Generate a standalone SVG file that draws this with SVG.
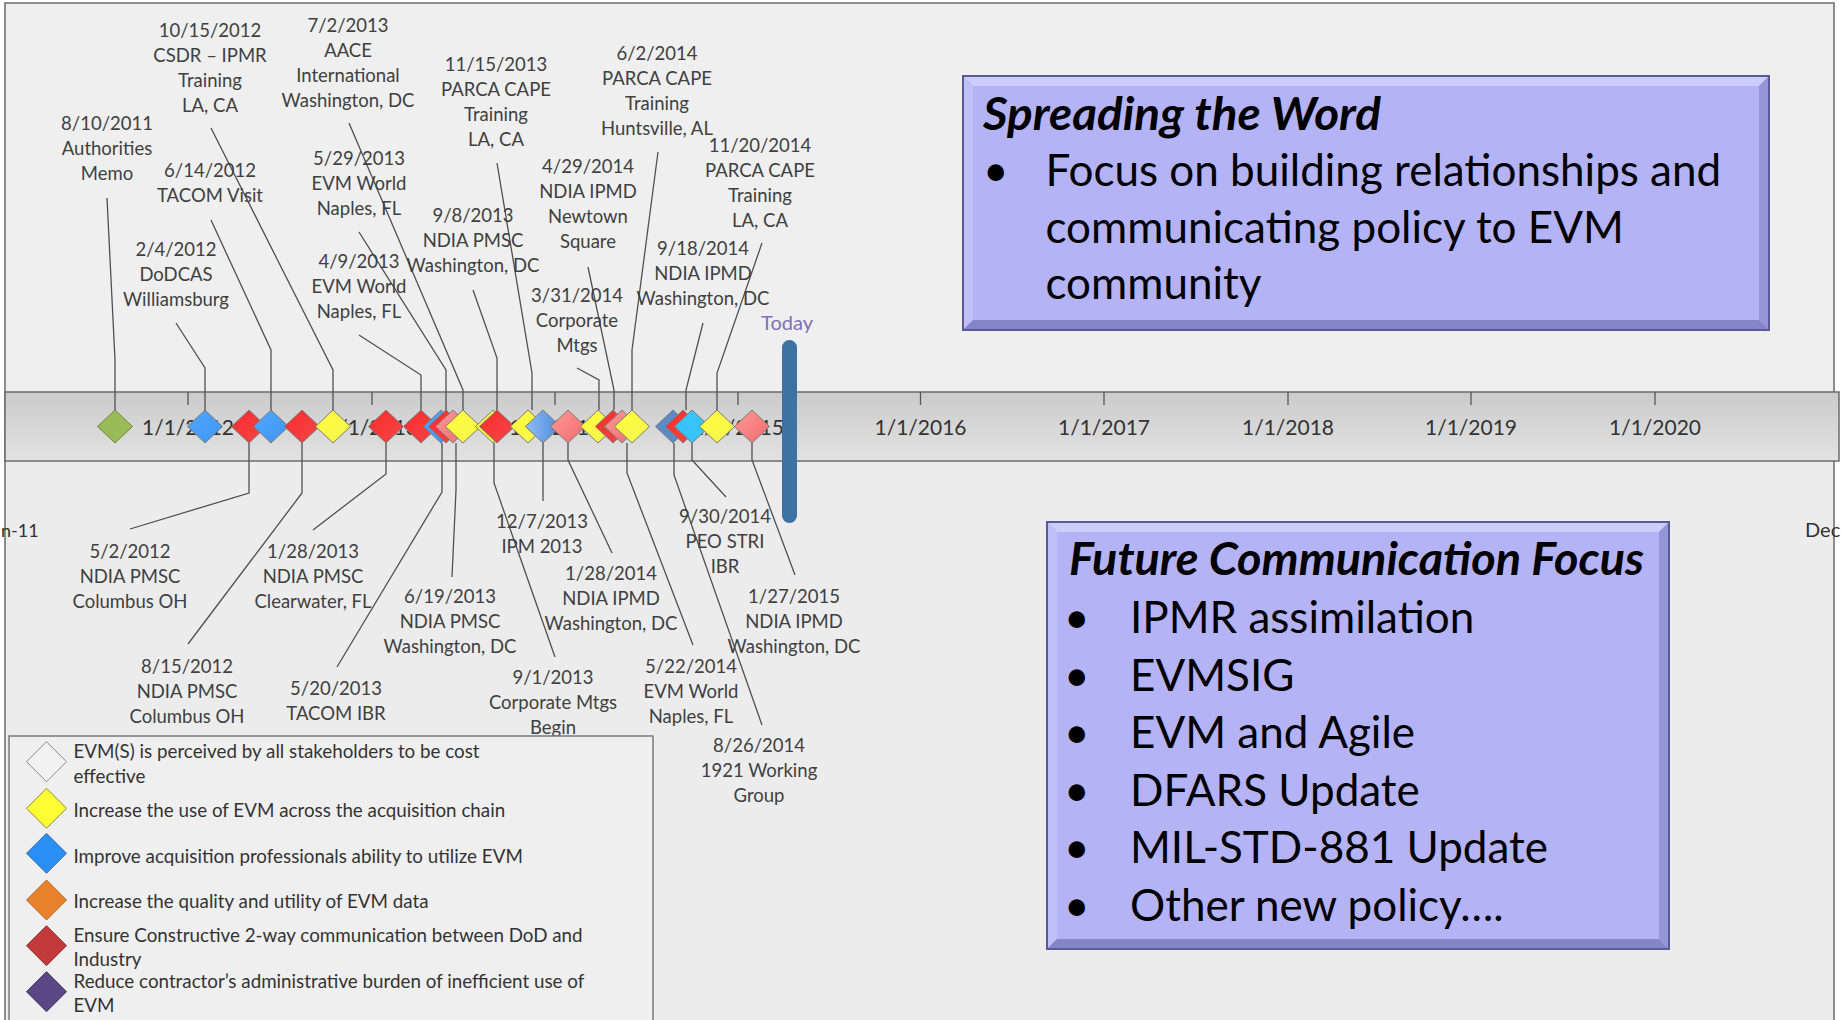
<svg xmlns="http://www.w3.org/2000/svg" xmlns:xlink="http://www.w3.org/1999/xlink" width="1841" height="1020" viewBox="0 0 1841 1020">
<defs>
<style>
.lbl{font-family:Lato,"Open Sans","DejaVu Sans",sans-serif;font-size:18.5px;fill:#404040;text-anchor:middle}
.tick{font-family:Lato,"Open Sans","DejaVu Sans",sans-serif;font-size:21px;fill:#333;text-anchor:middle}
.leg{font-family:Lato,"Open Sans","DejaVu Sans",sans-serif;font-size:18.8px;fill:#333}
.bt{font-family:Lato,"Open Sans","DejaVu Sans",sans-serif;font-size:44px;fill:#000}
.bh{font-family:Lato,"Open Sans","DejaVu Sans",sans-serif;font-size:46px;font-weight:bold;font-style:italic;fill:#000}
.ld{fill:none;stroke:#505050;stroke-width:1.3}
.dm{stroke:#7a7a7a;stroke-width:1}
.red{fill:url(#gRed)}
.yel{fill:url(#gYel)}
.blu{fill:url(#gBlu)}
.sal{fill:url(#gSal)}
.lbl2{fill:url(#gLbl)}
.stl{fill:#5a8ac8}
.cyn{fill:#36c4fb}
.grn{fill:#9bbb59;stroke:#6f8a3a}
.bv-out{fill:#9a9ae0;stroke:#5a5a96;stroke-width:2}
.bv-t{fill:#cdcdfb}
.bv-l{fill:#c0c0f9}
.bv-b{fill:#8585c9}
.bv-r{fill:#9595d9}
.bv-in{fill:#b3b3f6}
</style>
<linearGradient id="gRed" x1="0" y1="0" x2="1" y2="1"><stop offset="0" stop-color="#ff2a2a"/><stop offset="1" stop-color="#f04848"/></linearGradient>
<linearGradient id="gYel" x1="0" y1="0" x2="1" y2="1"><stop offset="0" stop-color="#ffff3a"/><stop offset="1" stop-color="#f5f550"/></linearGradient>
<linearGradient id="gBlu" x1="0" y1="0" x2="1" y2="1"><stop offset="0" stop-color="#52a8ff"/><stop offset="1" stop-color="#3f94f0"/></linearGradient>
<linearGradient id="gSal" x1="0" y1="0" x2="1" y2="1"><stop offset="0" stop-color="#ff9a9a"/><stop offset="1" stop-color="#f26a6a"/></linearGradient>
<linearGradient id="gLbl" x1="0" y1="0" x2="1" y2="0"><stop offset="0" stop-color="#92bef2"/><stop offset="1" stop-color="#4a8ae0"/></linearGradient>
<linearGradient id="gBand" x1="0" y1="0" x2="0" y2="1"><stop offset="0" stop-color="#cbcbcb"/><stop offset="1" stop-color="#e2e2e2"/></linearGradient>
<path id="d" d="M0,-16.5 L17.5,0 L0,16.5 L-17.5,0Z"/>
<path id="D" d="M0,-20 L20,0 L0,20 L-20,0Z"/>
</defs>

<rect x="0" y="0" width="1841" height="1020" fill="#ffffff"/>
<rect x="5" y="3" width="1829" height="1030" fill="#ececec" stroke="#6b6b6b" stroke-width="1.5"/>
<rect x="6" y="4" width="1827" height="388" fill="#efefef"/>

<!-- timeline band -->
<g id="band">
<rect x="5" y="392" width="1834" height="69" fill="url(#gBand)" stroke="#6b6b6b" stroke-width="1.5"/>
<g stroke="#555" stroke-width="1.3">
<line x1="188" y1="392" x2="188" y2="405"/>
<line x1="372" y1="392" x2="372" y2="405"/>
<line x1="555" y1="392" x2="555" y2="405"/>
<line x1="738" y1="392" x2="738" y2="405"/>
<line x1="920.5" y1="392" x2="920.5" y2="405"/>
<line x1="1104" y1="392" x2="1104" y2="405"/>
<line x1="1288" y1="392" x2="1288" y2="405"/>
<line x1="1471" y1="392" x2="1471" y2="405"/>
<line x1="1655" y1="392" x2="1655" y2="405"/>
</g>
<text class="tick" x="188" y="435">1/1/2012</text>
<text class="tick" x="372" y="435">1/1/2013</text>
<text class="tick" x="555" y="435">1/1/2014</text>
<text class="tick" x="738" y="435">1/1/2015</text>
<text class="tick" x="920.5" y="435">1/1/2016</text>
<text class="tick" x="1104" y="435">1/1/2017</text>
<text class="tick" x="1288" y="435">1/1/2018</text>
<text class="tick" x="1471" y="435">1/1/2019</text>
<text class="tick" x="1655" y="435">1/1/2020</text>
<text class="tick" x="1" y="537" style="text-anchor:start;font-size:18px">n-11</text>
<text class="tick" x="1805" y="537" style="text-anchor:start;font-size:20px">Dec</text>
</g>

<!-- connectors -->
<g id="connectors" class="ld">
<polyline class="ld" points="107,198 115,360 115,410"/>
<polyline class="ld" points="176,323 205,368 205,410"/>
<polyline class="ld" points="211,220 271,350 271,410"/>
<polyline class="ld" points="211,128 333,370 333,410"/>
<polyline class="ld" points="359,335 421,375 421,410"/>
<polyline class="ld" points="359,232 446,370 446,410"/>
<polyline class="ld" points="349,123 463,390 463,410"/>
<polyline class="ld" points="473,290 497,358 497,410"/>
<polyline class="ld" points="497,163 532,373 532,410"/>
<polyline class="ld" points="577,368 599,380 599,410"/>
<polyline class="ld" points="588,267 614,390 614,410"/>
<polyline class="ld" points="658,152 632,350 632,410"/>
<polyline class="ld" points="703,323 686,390 686,410"/>
<polyline class="ld" points="762,243 717,373 717,410"/>
<polyline class="ld" points="249,443 249,493 130,529"/>
<polyline class="ld" points="302,443 302,493 188,644"/>
<polyline class="ld" points="386,443 386,474 313,530"/>
<polyline class="ld" points="442,443 442,492 337,667"/>
<polyline class="ld" points="456,443 456,490 452,577"/>
<polyline class="ld" points="494,443 494,483 555,657"/>
<polyline class="ld" points="543,443 543,501"/>
<polyline class="ld" points="568,443 568,460 612,553"/>
<polyline class="ld" points="627,443 627,473 693,645"/>
<polyline class="ld" points="674,443 674,475 762,725"/>
<polyline class="ld" points="692,443 692,460 726,497"/>
<polyline class="ld" points="752,443 752,460 795,575"/>
</g>

<!-- Today marker -->
<g id="today">
<rect x="782" y="340" width="15" height="183" rx="7.5" fill="#3d72a4"/>
<text x="787" y="330" style="font-family:Lato,'Open Sans',sans-serif;font-size:20px;fill:#7e6fb6;text-anchor:middle">Today</text>
</g>

<!-- event nodes (chronological) -->
<g id="ev-20110810"><use xlink:href="#d" x="115" y="426.5" class="dm grn"/><text class="lbl" x="107" y="130"><tspan x="107">8/10/2011</tspan><tspan x="107" dy="25">Authorities</tspan><tspan x="107" dy="25">Memo</tspan></text></g>
<g id="ev-20120204"><use xlink:href="#d" x="205" y="426.5" class="dm blu"/><text class="lbl" y="256"><tspan x="176">2/4/2012</tspan><tspan x="176" dy="25">DoDCAS</tspan><tspan x="176" dy="25">Williamsburg</tspan></text></g>
<g id="ev-20120502"><use xlink:href="#d" x="249" y="426.5" class="dm red"/><text class="lbl" y="558"><tspan x="130">5/2/2012</tspan><tspan x="130" dy="25">NDIA PMSC</tspan><tspan x="130" dy="25">Columbus OH</tspan></text></g>
<g id="ev-20120614"><use xlink:href="#d" x="271" y="426.5" class="dm blu"/><text class="lbl" y="177"><tspan x="210">6/14/2012</tspan><tspan x="210" dy="25">TACOM Visit</tspan></text></g>
<g id="ev-20120815"><use xlink:href="#d" x="302" y="426.5" class="dm red"/><text class="lbl" y="673"><tspan x="187">8/15/2012</tspan><tspan x="187" dy="25">NDIA PMSC</tspan><tspan x="187" dy="25">Columbus OH</tspan></text></g>
<g id="ev-20121015"><use xlink:href="#d" x="333" y="426.5" class="dm yel"/><text class="lbl" y="37"><tspan x="210">10/15/2012</tspan><tspan x="210" dy="25">CSDR – IPMR</tspan><tspan x="210" dy="25">Training</tspan><tspan x="210" dy="25">LA, CA</tspan></text></g>
<g id="ev-20130128"><use xlink:href="#d" x="386" y="426.5" class="dm red"/><text class="lbl" y="558"><tspan x="313">1/28/2013</tspan><tspan x="313" dy="25">NDIA PMSC</tspan><tspan x="313" dy="25">Clearwater, FL</tspan></text></g>
<g id="ev-20130409"><use xlink:href="#d" x="421" y="426.5" class="dm red"/><text class="lbl" y="268"><tspan x="359">4/9/2013</tspan><tspan x="359" dy="25">EVM World</tspan><tspan x="359" dy="25">Naples, FL</tspan></text></g>
<g id="ev-20130520"><use xlink:href="#d" x="441" y="426.5" class="dm blu"/><text class="lbl" y="695"><tspan x="336">5/20/2013</tspan><tspan x="336" dy="25">TACOM IBR</tspan></text></g>
<g id="ev-20130529"><use xlink:href="#d" x="446" y="426.5" class="dm red"/><text class="lbl" y="165"><tspan x="359">5/29/2013</tspan><tspan x="359" dy="25">EVM World</tspan><tspan x="359" dy="25">Naples, FL</tspan></text></g>
<g id="ev-20130619"><use xlink:href="#d" x="453" y="426.5" class="dm sal"/><text class="lbl" y="603"><tspan x="450">6/19/2013</tspan><tspan x="450" dy="25">NDIA PMSC</tspan><tspan x="450" dy="25">Washington, DC</tspan></text></g>
<g id="ev-20130702"><use xlink:href="#d" x="463" y="426.5" class="dm yel"/><text class="lbl" y="32"><tspan x="348">7/2/2013</tspan><tspan x="348" dy="25">AACE</tspan><tspan x="348" dy="25">International</tspan><tspan x="348" dy="25">Washington, DC</tspan></text></g>
<g id="ev-20130901"><use xlink:href="#d" x="493" y="426.5" class="dm yel"/><text class="lbl" y="684"><tspan x="553">9/1/2013</tspan><tspan x="553" dy="25">Corporate Mtgs</tspan><tspan x="553" dy="25">Begin</tspan></text></g>
<g id="ev-20130908"><use xlink:href="#d" x="497" y="426.5" class="dm red"/><text class="lbl" y="222"><tspan x="473">9/8/2013</tspan><tspan x="473" dy="25">NDIA PMSC</tspan><tspan x="473" dy="25">Washington, DC</tspan></text></g>
<g id="ev-20131115"><use xlink:href="#d" x="528" y="426.5" class="dm yel"/><text class="lbl" y="71"><tspan x="496">11/15/2013</tspan><tspan x="496" dy="25">PARCA CAPE</tspan><tspan x="496" dy="25">Training</tspan><tspan x="496" dy="25">LA, CA</tspan></text></g>
<g id="ev-20131207"><use xlink:href="#d" x="543" y="426.5" class="dm lbl2"/><text class="lbl" y="528"><tspan x="542">12/7/2013</tspan><tspan x="542" dy="25">IPM 2013</tspan></text></g>
<g id="ev-20140128"><use xlink:href="#d" x="568" y="426.5" class="dm sal"/><text class="lbl" y="580"><tspan x="611">1/28/2014</tspan><tspan x="611" dy="25">NDIA IPMD</tspan><tspan x="611" dy="25">Washington, DC</tspan></text></g>
<g id="ev-20140331"><use xlink:href="#d" x="598" y="426.5" class="dm yel"/><text class="lbl" y="302"><tspan x="577">3/31/2014</tspan><tspan x="577" dy="25">Corporate</tspan><tspan x="577" dy="25">Mtgs</tspan></text></g>
<g id="ev-20140429"><use xlink:href="#d" x="613" y="426.5" class="dm red"/><text class="lbl" y="173"><tspan x="588">4/29/2014</tspan><tspan x="588" dy="25">NDIA IPMD</tspan><tspan x="588" dy="25">Newtown</tspan><tspan x="588" dy="25">Square</tspan></text></g>
<g id="ev-20140522"><use xlink:href="#d" x="622" y="426.5" class="dm sal"/><text class="lbl" y="673"><tspan x="691">5/22/2014</tspan><tspan x="691" dy="25">EVM World</tspan><tspan x="691" dy="25">Naples, FL</tspan></text></g>
<g id="ev-20140602"><use xlink:href="#d" x="632" y="426.5" class="dm yel"/><text class="lbl" y="60"><tspan x="657">6/2/2014</tspan><tspan x="657" dy="25">PARCA CAPE</tspan><tspan x="657" dy="25">Training</tspan><tspan x="657" dy="25">Huntsville, AL</tspan></text></g>
<g id="ev-20140826"><use xlink:href="#d" x="673" y="426.5" class="dm stl"/><text class="lbl" y="752"><tspan x="759">8/26/2014</tspan><tspan x="759" dy="25">1921 Working</tspan><tspan x="759" dy="25">Group</tspan></text></g>
<g id="ev-20140918"><use xlink:href="#d" x="683" y="426.5" class="dm red"/><text class="lbl" y="255"><tspan x="703">9/18/2014</tspan><tspan x="703" dy="25">NDIA IPMD</tspan><tspan x="703" dy="25">Washington, DC</tspan></text></g>
<g id="ev-20140930"><use xlink:href="#d" x="692" y="426.5" class="dm cyn"/><text class="lbl" y="523"><tspan x="725">9/30/2014</tspan><tspan x="725" dy="25">PEO STRI</tspan><tspan x="725" dy="25">IBR</tspan></text></g>
<g id="ev-20141120"><use xlink:href="#d" x="717" y="426.5" class="dm yel"/><text class="lbl" y="152"><tspan x="760">11/20/2014</tspan><tspan x="760" dy="25">PARCA CAPE</tspan><tspan x="760" dy="25">Training</tspan><tspan x="760" dy="25">LA, CA</tspan></text></g>
<g id="ev-20150127"><use xlink:href="#d" x="752" y="426.5" class="dm sal"/><text class="lbl" y="603"><tspan x="794">1/27/2015</tspan><tspan x="794" dy="25">NDIA IPMD</tspan><tspan x="794" dy="25">Washington, DC</tspan></text></g>

<!-- legend -->
<g id="legend">
<rect x="9" y="736" width="644" height="300" fill="#efefef" stroke="#7a7a7a" stroke-width="1.5"/>
<use xlink:href="#D" x="46.5" y="761.7" fill="#f2f2f2" stroke="#8a8a8a"/>
<use xlink:href="#D" x="46.5" y="808.3" fill="#ffff33" stroke="#8a8a50"/>
<use xlink:href="#D" x="46.5" y="853.3" fill="#2a8ff5" stroke="#3a6fae"/>
<use xlink:href="#D" x="46.5" y="900" fill="#e8822a" stroke="#b0651f"/>
<use xlink:href="#D" x="46.5" y="945.7" fill="#c23a3c" stroke="#8e2c2c"/>
<use xlink:href="#D" x="46.5" y="991.7" fill="#5b4785" stroke="#3e305e"/>
<text class="leg" x="73.5" y="758">EVM(S) is perceived by all stakeholders to be cost</text>
<text class="leg" x="73.5" y="782.7">effective</text>
<text class="leg" x="73.5" y="816.7">Increase the use of EVM across the acquisition chain</text>
<text class="leg" x="73.5" y="862.7">Improve acquisition professionals ability to utilize EVM</text>
<text class="leg" x="73.5" y="908.3">Increase the quality and utility of EVM data</text>
<text class="leg" x="73.5" y="941.7">Ensure Constructive 2-way communication between DoD and</text>
<text class="leg" x="73.5" y="966">Industry</text>
<text class="leg" x="73.5" y="987.7">Reduce contractor’s administrative burden of inefficient use of</text>
<text class="leg" x="73.5" y="1011.7">EVM</text>
</g>

<!-- Spreading the Word box -->
<g id="box-spreading">
<rect class="bv-out" x="963" y="76" width="806" height="254"/>
<polygon class="bv-t" points="963,76 1769,76 1759,86 973,86"/>
<polygon class="bv-l" points="963,76 973,86 973,320 963,330"/>
<polygon class="bv-b" points="963,330 973,320 1759,320 1769,330"/>
<polygon class="bv-r" points="1769,76 1769,330 1759,320 1759,86"/>
<rect class="bv-in" x="973" y="86" width="786" height="234"/>
<rect x="963" y="76" width="806" height="254" fill="none" stroke="#5a5a96" stroke-width="2"/>
<text class="bh" x="983" y="130" textLength="398" lengthAdjust="spacingAndGlyphs">Spreading the Word</text>
<text class="bt" x="983" y="186">•</text>
<text class="bt" x="1045.5" y="186">Focus on building relationships and</text>
<text class="bt" x="1045.5" y="243">communicating policy to EVM</text>
<text class="bt" x="1045.5" y="299">community</text>
</g>

<!-- Future Communication Focus box -->
<g id="box-future">
<rect class="bv-out" x="1047" y="522" width="622" height="427"/>
<polygon class="bv-t" points="1047,522 1669,522 1659,532 1057,532"/>
<polygon class="bv-l" points="1047,522 1057,532 1057,939 1047,949"/>
<polygon class="bv-b" points="1047,949 1057,939 1659,939 1669,949"/>
<polygon class="bv-r" points="1669,522 1669,949 1659,939 1659,532"/>
<rect class="bv-in" x="1057" y="532" width="602" height="407"/>
<rect x="1047" y="522" width="622" height="427" fill="none" stroke="#5a5a96" stroke-width="2"/>
<text class="bh" x="1069" y="575" textLength="575" lengthAdjust="spacingAndGlyphs">Future Communication Focus</text>
<text class="bt" x="1064" y="633">•</text>
<text class="bt" x="1064" y="691">•</text>
<text class="bt" x="1064" y="748">•</text>
<text class="bt" x="1064" y="806">•</text>
<text class="bt" x="1064" y="863">•</text>
<text class="bt" x="1064" y="921">•</text>
<text class="bt" x="1130" y="633">IPMR assimilation</text>
<text class="bt" x="1130" y="691">EVMSIG</text>
<text class="bt" x="1130" y="748">EVM and Agile</text>
<text class="bt" x="1130" y="806">DFARS Update</text>
<text class="bt" x="1130" y="863">MIL-STD-881 Update</text>
<text class="bt" x="1130" y="921">Other new policy….</text>
</g>
</svg>
